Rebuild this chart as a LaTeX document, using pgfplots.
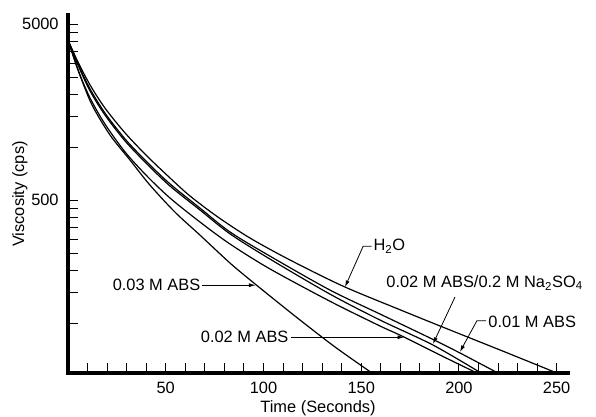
\documentclass[border=0pt]{standalone}
\usepackage{fontspec}
\setmainfont{Liberation Sans}
\usepackage{pgfplots}
\pgfplotsset{compat=1.18}
\usetikzlibrary{arrows.meta}
\newcommand{\fs}{\fontsize{12.3}{14.5}\selectfont}
\begin{document}
\begin{tikzpicture}
\begin{axis}[
  scale only axis, width=375pt, height=268.5pt,
  ymode=log, xmin=0, xmax=255.8, ymin=52, ymax=5626,
  axis lines*=left,
  axis line style={-, line cap=rect},
  x axis line style={line width=3.6pt},
  y axis line style={line width=3pt},
  tick align=inside,
  major tick length=7.5pt, minor tick length=7.5pt,
  tick style={line width=0.7pt, black},
  xtick={50,100,150,200,250},
  minor xtick={10,20,...,240},
  ytick={500,5000},
  yticklabels={500,5000},
  minor ytick={100,150,200,250,300,350,400,450,1000,1500,2000,2500,3000,3500,4000,4500},
  /pgf/number format/assume math mode=true,
  tick label style={font=\fs},
  yticklabel style={xshift=-3.5pt},
  xticklabel style={yshift=-3pt},
  label style={font=\fs},
  xlabel={Time (Seconds)},
  ylabel={Viscosity (cps)},
  xlabel style={at={(axis description cs:0.5,-0.098)}, anchor=center},
  ylabel style={at={(axis description cs:-0.096,0.5)}, anchor=center},
  clip mode=individual,
  cycle list={{black}},
  every axis plot post/.append style={black, line width=0.9pt, no marks, smooth},
]
% H2O
\addplot coordinates {(0,4055) (5.1,3042) (11.3,2251) (18.9,1666) (29.2,1202) (40.4,889) (52.2,667) (62.4,527) (76.7,400) (93.1,304) (113.6,228) (140.7,162) (169.8,119) (195.4,91.3) (221.0,70.3) (250.1,52)};
% 0.01 M ABS
\addplot coordinates {(0,4055) (5.1,2962) (11.3,2136) (18.9,1561) (29.2,1111) (40.4,822) (52.2,617) (67.5,450) (82.9,329) (103.3,240) (134.0,154) (159.6,112.5) (185.2,82.2) (200.5,67.6) (219.9,52)};
% 0.02 M ABS / 0.2 M Na2SO4
\addplot coordinates {(0,4055) (5.1,2924) (11.3,2081) (18.9,1521) (29.2,1082) (40.4,801) (52.2,600) (67.5,439) (82.9,321) (103.3,231) (134.0,146) (159.6,104) (186.7,75.0) (211.3,52)};
% 0.02 M ABS
\addplot coordinates {(0,4055) (5.1,2739) (11.3,1898) (18.9,1351) (29.2,937) (40.4,684) (52.2,513) (67.5,375) (82.9,281) (103.3,203) (134.0,133) (159.6,96.2) (170.8,84.4) (190.3,65.8) (209.2,52)};
% 0.03 M ABS
\addplot coordinates {(0,4055) (6.1,2566) (12.3,1733) (21.5,1170) (31.7,844) (41.9,608) (54.7,427) (67.5,316) (82.9,219) (93.1,176) (105.9,135) (118.7,104) (136.6,73.1) (155.5,52)};

% annotations
\node[anchor=east, inner sep=1pt, font=\fs] at (axis cs:68.5,164) {0.03 M ABS};
\draw[-{Latex[length=5pt,width=3pt]}, line width=0.6pt] (axis cs:68.8,164) -- (axis cs:96,164);

\node[anchor=east, inner sep=1pt, font=\fs] at (axis cs:113.6,83) {0.02 M ABS};
\draw[-{Latex[length=5pt,width=3pt]}, line width=0.6pt] (axis cs:113.9,83) -- (axis cs:172,83);

\node[anchor=west, inner sep=1pt, font=\fs] at (axis cs:155.5,273) {H\textsubscript{2}O};
\draw[-{Latex[length=5pt,width=3pt]}, line width=0.6pt] (axis cs:155.3,273) -- (axis cs:151,273) -- (axis cs:141.7,160);

\node[anchor=west, inner sep=1pt, font=\fs] at (axis cs:162.1,169) {0.02 M ABS/0.2 M Na\textsubscript{2}SO\textsubscript{4}};
\draw[-{Latex[length=5pt,width=3pt]}, line width=0.6pt] (axis cs:198,140.6) -- (axis cs:186.7,76);

\node[anchor=west, inner sep=1pt, font=\fs] at (axis cs:214.3,101.4) {0.01 M ABS};
\draw[-{Latex[length=5pt,width=3pt]}, line width=0.6pt] (axis cs:213.9,103) -- (axis cs:209.2,103) -- (axis cs:200.5,68.5);

\coordinate (bbSW) at (axis description cs:-0.136,-0.1229);
\coordinate (bbNE) at (axis description cs:1.056,1.0419);
\end{axis}
\pgfresetboundingbox
\path (bbSW) rectangle (bbNE);
\end{tikzpicture}
\end{document}
